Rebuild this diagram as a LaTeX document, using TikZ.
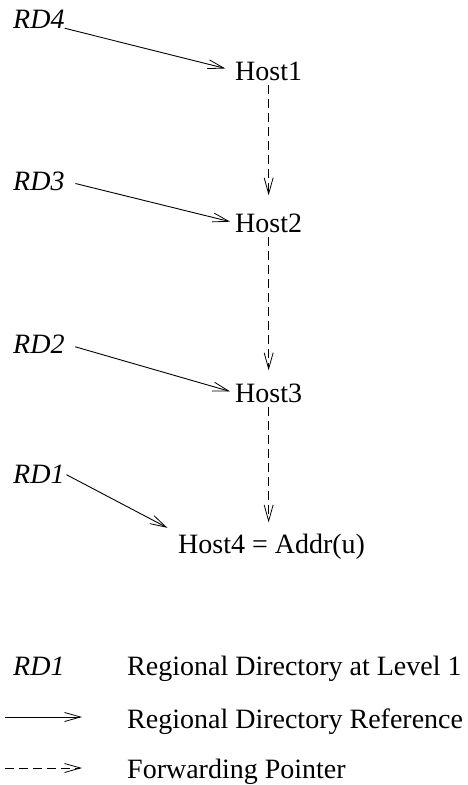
\documentclass[tikz,border=0pt]{standalone}
\usepackage{fontspec}
\setmainfont{Liberation Serif}
\usepackage{tikz}
\usetikzlibrary{arrows.meta,positioning,calc}

\begin{document}
\begin{tikzpicture}[
  x=1pt, y=-1pt,
  every node/.style={inner sep=0pt, anchor=base west, font=\fontsize{28}{32}\selectfont},
  rdlabel/.style={font=\fontsize{28}{32}\selectfont\itshape},
  rdref/.style={-{Straight Barb[length=16pt, width=9pt, line width=0.8pt]}, line width=0.9pt},
  fwdptr/.style={rdref, dash pattern=on 9pt off 5pt}
]
\useasboundingbox (0,0) rectangle (468,785);

\node[rdlabel] (rd4) at (13,28) {RD4};
\node[rdlabel] (rd3) at (13,190) {RD3};
\node[rdlabel] (rd2) at (13,353) {RD2};
\node[rdlabel] (rd1) at (13,483) {RD1};
\node (host1) at (235,80) {Host1};
\node (host2) at (235,232) {Host2};
\node (host3) at (235,402) {Host3};
\node (host4) at (178,553) {Host4 = Addr(u)};

\draw[rdref, shorten >=10pt] (rd4.south east) -- (host1.west);
\draw[rdref, shorten <=11pt, shorten >=5pt] (rd3.east) -- (host2.west);
\draw[rdref, shorten <=11pt, shorten >=5pt] (rd2.east) -- (host3.west);
\draw[rdref, shorten <=2pt, shorten >=12pt] (rd1.east) -- (host4.north west);
\draw[fwdptr, shorten <=5pt, shorten >=18pt] (host1.south) -- (host2.north);
\draw[fwdptr, shorten <=5pt, shorten >=13pt] (host2.south) -- (host3.north);
\draw[fwdptr, shorten <=5pt, shorten >=11pt] (host3.south) -- (host3.south |- host4.north);

% legend
\node[rdlabel] (keyrd) at (13,675) {RD1};
\node (keyrdtxt) at (127,675) {Regional Directory at Level 1};
\coordinate (refa) at (5,717);
\coordinate (refb) at (82,717);
\draw[rdref] (refa) -- (refb);
\node (keyref) at (127,728) {Regional Directory Reference};
\coordinate (fwda) at (5,768);
\coordinate (fwdb) at (82,768);
\draw[fwdptr] (fwda) -- (fwdb);
\node (keyfwd) at (127,778) {Forwarding Pointer};
\end{tikzpicture}
\end{document}
